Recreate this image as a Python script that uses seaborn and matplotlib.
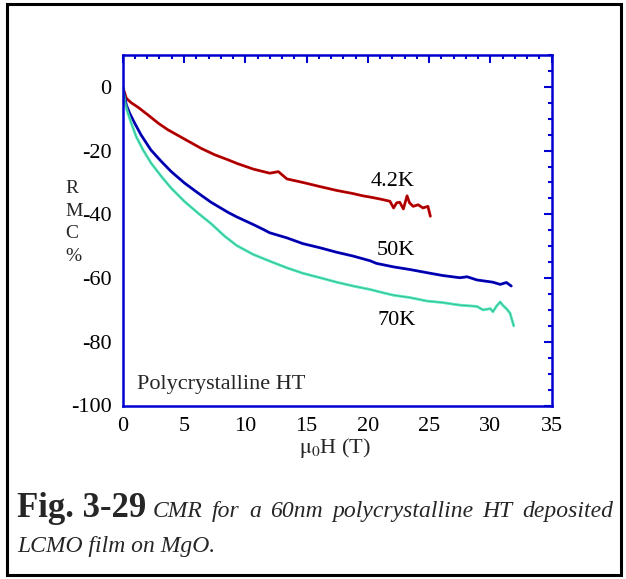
import matplotlib
matplotlib.use("Agg")
import matplotlib.pyplot as plt
import pandas as pd
import seaborn as sns
from matplotlib import font_manager
from matplotlib.patches import Rectangle
from matplotlib.ticker import MultipleLocator

# ---- data: CMR (%) versus applied field mu0H (T) ----
h_42k = [0.0, 0.3, 0.7, 1.25, 2.06, 2.9, 3.7, 5.05, 6.4, 7.5, 8.6, 9.3, 10.65, 12.0, 12.7,
         13.4, 14.7, 16.1, 17.45, 18.8, 19.6, 20.2, 21.0, 21.8, 22.1, 22.35, 22.6, 22.9,
         23.2, 23.4, 23.7, 24.1, 24.5, 24.9, 25.1]
cmr_42k = [0.0, -3.6, -5.0, -6.4, -8.8, -11.4, -13.5, -16.4, -19.3, -21.3, -22.9, -24.0,
           -25.8, -27.1, -26.6, -28.9, -30.0, -31.3, -32.5, -33.5, -34.2, -34.6, -35.2,
           -35.9, -38.0, -36.4, -36.2, -38.3, -34.2, -36.4, -37.5, -37.0, -38.0, -37.5, -40.6]

h_50k = [0.0, 0.3, 0.57, 0.98, 1.5, 2.3, 3.15, 3.96, 5.05, 6.14, 7.2, 8.6, 9.3, 10.65,
         11.5, 12.0, 13.4, 14.7, 16.1, 17.45, 18.8, 20.2, 20.7, 22.1, 23.4, 24.8, 26.1,
         27.5, 28.1, 28.9, 30.2, 30.8, 31.3, 31.7]
cmr_50k = [0.0, -5.7, -8.3, -11.4, -15.1, -19.8, -23.4, -26.6, -30.2, -33.3, -36.2, -39.4,
           -40.8, -43.2, -44.8, -45.8, -47.4, -49.2, -50.5, -51.9, -53.1, -54.6, -55.4,
           -56.5, -57.3, -58.3, -59.2, -59.9, -59.6, -60.6, -61.3, -62.0, -61.4, -62.5]

h_70k = [0.0, 0.2, 0.43, 0.7, 1.1, 1.66, 2.33, 3.15, 3.96, 5.05, 6.14, 7.2, 8.3, 9.3,
         10.65, 12.0, 13.4, 14.7, 16.1, 17.45, 18.8, 20.2, 20.7, 22.1, 23.4, 24.8, 26.1,
         27.5, 28.9, 29.4, 30.0, 30.2, 30.5, 30.8, 31.0, 31.3, 31.6, 31.9]
cmr_70k = [0.0, -5.2, -8.3, -11.4, -15.6, -19.8, -24.0, -28.1, -31.8, -36.0, -39.6, -42.9,
           -46.8, -49.8, -52.6, -54.7, -56.8, -58.5, -59.9, -61.3, -62.5, -63.6, -64.1,
           -65.4, -66.1, -67.2, -67.7, -68.5, -68.9, -70.0, -69.6, -70.6, -68.8, -67.5,
           -68.5, -69.6, -71.0, -75.0]

temps = ["4.2K", "50K", "70K"]
colors = {"4.2K": "#c00000", "50K": "#0000c0", "70K": "#50eabc"}
core_colors = {"4.2K": "#300000", "50K": "#000030", "70K": "#103028"}
label_pos = {"4.2K": (20.2, -29.6), "50K": (20.7, -51.5), "70K": (20.8, -73.2)}

frames = []
for t, h, c in zip(temps, [h_42k, h_50k, h_70k], [cmr_42k, cmr_50k, cmr_70k]):
    frames.append(pd.DataFrame({"field": h, "cmr": c, "temp": t}))
df = pd.concat(frames, ignore_index=True)

# register the Times-metric serif faces explicitly
serif_name = "DejaVu Serif"
for path in font_manager.findSystemFonts():
    key = path.lower().replace(" ", "").replace("-", "").replace("_", "")
    if "liberationserif" in key:
        font_manager.fontManager.addfont(path)
        serif_name = font_manager.FontProperties(fname=path).get_name()

sns.set_theme(style="white")
plt.rcParams["font.family"] = [serif_name, "DejaVu Serif"]
plt.rcParams["mathtext.fontset"] = "stix"
plt.rcParams["axes.unicode_minus"] = False

W, H = 626, 579
fig = plt.figure(figsize=(W / 100, H / 100), dpi=100)
ax = fig.add_axes([122.7 / W, 1 - 405.5 / H, 429 / W, 350.5 / H])

AXIS_BLUE = "#0000d0"

sns.lineplot(data=df, x="field", y="cmr", hue="temp", palette=colors, sort=False,
             estimator=None, units="temp", legend=False, linewidth=2.0, ax=ax)
sns.lineplot(data=df, x="field", y="cmr", hue="temp", palette=core_colors,
             sort=False, estimator=None, units="temp", legend=False,
             linewidth=0.5, alpha=0.35, ax=ax)

for t in temps:
    ax.text(*label_pos[t], t, fontsize=16, ha="left", va="center", color="black")
ax.text(1.2, -93.3, "Polycrystalline HT", fontsize=16, ha="left", va="center")

ax.set_xlim(0, 35)
ax.set_ylim(-100, 10)
ax.set_xticks(range(0, 36, 5))
ax.set_yticks(range(-100, 1, 20))
ax.xaxis.set_minor_locator(MultipleLocator(1))
ax.yaxis.set_minor_locator(MultipleLocator(5))
ax.tick_params(which="both", direction="in", top=True, right=True, color=AXIS_BLUE,
               width=1.5, labelsize=16, labelcolor="black")
ax.tick_params(which="major", length=6, pad=8)
ax.tick_params(which="minor", length=3)
for s in ax.spines.values():
    s.set_color(AXIS_BLUE)
    s.set_linewidth(1.8)

ax.set_xlabel(r"$\mathrm{\mu}_{0}$H (T)", fontsize=16)
ax.xaxis.set_label_coords(0.495, -0.086)
ax.set_ylabel("R\nM\nC\n%", fontsize=14, rotation=0, ha="left", va="center",
              linespacing=1.45)
ax.yaxis.set_label_coords(-0.134, 0.522)

# frame around figure and caption
fig.patches.append(Rectangle((7 / W, 1 - 575 / H), 614 / W, 571 / H, fill=False,
                             edgecolor="black", linewidth=2.2,
                             transform=fig.transFigure))

fig.text(17 / W, 1 - 517 / H, "Fig. 3-29", fontsize=25, fontweight="bold",
         ha="left", va="baseline")

words = ["CMR", "for", "a", "60nm", "polycrystalline", "HT", "deposited"]
x_start, x_end = 153, 613
objs = [fig.text(0, 1 - 517 / H, w, fontsize=17, style="italic", ha="left",
                 va="baseline") for w in words]
fig.canvas.draw()
r = fig.canvas.get_renderer()
widths = [o.get_window_extent(r).width for o in objs]
gap = (x_end - x_start - sum(widths)) / (len(words) - 1)
x = x_start
for o, w in zip(objs, widths):
    o.set_x(x / W)
    x += w + gap

fig.text(17 / W, 1 - 552 / H, "LCMO film on MgO.", fontsize=17, style="italic",
         ha="left", va="baseline")

fig.savefig("out.png", dpi=100)
